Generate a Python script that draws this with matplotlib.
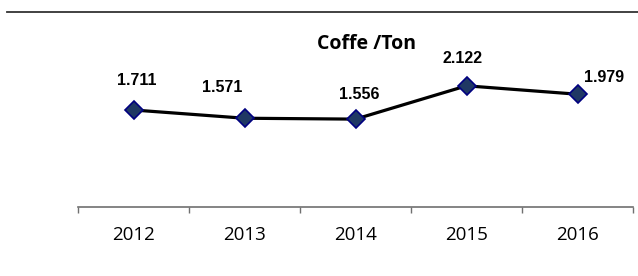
import matplotlib
matplotlib.use("Agg")
import matplotlib.pyplot as plt
from matplotlib.lines import Line2D
import numpy as np

years = ["2012", "2013", "2014", "2015", "2016"]
values = [1.711, 1.571, 1.556, 2.122, 1.979]
labels = ["1.711", "1.571", "1.556", "2.122", "1.979"]
# label offsets in pixels (dx, dy) relative to marker
offsets = [(3, 29), (-22, 31), (4, 25), (-4, 27), (27, 17)]

W, H = 638, 276
dpi = 100
fig = plt.figure(figsize=(W / dpi, H / dpi), dpi=dpi)
left, right = 78 / W, 633 / W
bottom, top = (H - 207) / H, (H - 20) / H
ax = fig.add_axes([left, bottom, right - left, top - bottom])

x = np.arange(len(years))
ax.plot(x, values, color="black", lw=2.3, marker="D", markersize=9.5,
        markerfacecolor="#1F3864", markeredgecolor="#000080", markeredgewidth=1.2,
        zorder=3)

for xi, v, lab, (dx, dy) in zip(x, values, labels, offsets):
    ax.annotate(lab, (xi, v), xytext=(dx * 0.72, dy * 0.72), textcoords="offset points",
                ha="center", va="center", fontsize=11.5, fontweight="bold",
                family="Liberation Sans", color="black")

ax.set_xlim(-0.5, len(years) - 0.5)
ax.set_ylim(0.063, 3.24)
for s in ["top", "right", "left"]:
    ax.spines[s].set_visible(False)
ax.spines["bottom"].set_color("#707070")
ax.spines["bottom"].set_linewidth(1.2)
ax.set_yticks([])
ax.set_xticks(x)
ax.set_xticklabels(years, family="Open Sans", fontsize=13.5)
ax.tick_params(axis="x", which="major", length=0, pad=14)
ax.set_xticks(np.arange(-0.5, len(years)), minor=True)
ax.tick_params(axis="x", which="minor", length=4.5, width=1.0, color="#707070")

fig.text(367 / W, 1 - 44 / H, "Coffe /Ton", ha="center", va="center",
         fontsize=14, fontweight="bold", family="Open Sans")

fig.add_artist(Line2D([7 / W, 1.0], [1 - 11.5 / H, 1 - 11.5 / H],
                      transform=fig.transFigure, color="#333333", lw=1.3))

fig.savefig("out.png", dpi=dpi)
